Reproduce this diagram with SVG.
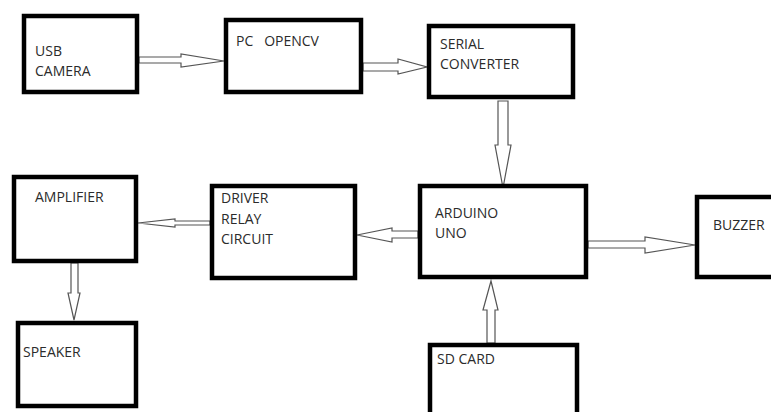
<svg xmlns="http://www.w3.org/2000/svg" width="771" height="412" viewBox="0 0 771 412">
<style>
.box{fill:#fff;stroke:#000;stroke-width:4.5}
.lbl{font-family:"Open Sans","Liberation Sans",sans-serif;font-size:14px;fill:#2b2b2b}
.arr{fill:#fff;stroke:#555;stroke-width:1.2;stroke-linejoin:miter}
</style>
<rect width="771" height="412" fill="#fff"/>
<g id="connectors">
<polygon class="arr" points="139,57 181,57 181,54 224,61 181,67 181,63 139,63"/>
<polygon class="arr" points="363,63 398,63 398,59 427,67 398,74 398,71 363,71"/>
<polygon class="arr" points="498,101 508,101 508,145 511,145 503,188 495,145 498,145"/>
<polygon class="arr" points="487,343 487,310 483,310 491,281 498,310 495,310 495,343"/>
<polygon class="arr" points="588,241 645,241 645,237 695,245 645,253 645,248 588,248"/>
<polygon class="arr" points="418,231 392,231 392,228 357,235 392,242 392,238 418,238"/>
<polygon class="arr" points="210,221 175,221 175,219 138,223 175,227 175,225 210,225"/>
<polygon class="arr" points="71,263 71,293 68,293 74,320 80,293 78,293 78,263"/>
</g>
<g id="usb-camera">
<rect class="box" x="24" y="16" width="113" height="76"/>
<text class="lbl" x="35" y="56">USB</text>
<text class="lbl" x="35" y="76">CAMERA</text>
</g>
<g id="pc-opencv">
<rect class="box" x="226" y="20" width="135" height="72"/>
<text class="lbl" x="236" y="46" xml:space="preserve">PC   OPENCV</text>
</g>
<g id="serial-converter">
<rect class="box" x="429" y="26" width="144" height="71"/>
<text class="lbl" x="440" y="49">SERIAL</text>
<text class="lbl" x="440" y="69">CONVERTER</text>
</g>
<g id="arduino-uno">
<rect class="box" x="420" y="186" width="166" height="91"/>
<text class="lbl" x="435" y="218">ARDUINO</text>
<text class="lbl" x="435" y="238">UNO</text>
</g>
<g id="buzzer">
<rect class="box" x="697" y="197" width="90" height="80"/>
<text class="lbl" x="713" y="230">BUZZER</text>
</g>
<g id="sd-card">
<rect class="box" x="430" y="345" width="147" height="80"/>
<text class="lbl" x="437" y="364">SD CARD</text>
</g>
<g id="driver-relay-circuit">
<rect class="box" x="212" y="186" width="143" height="92"/>
<text class="lbl" x="221" y="203">DRIVER</text>
<text class="lbl" x="221" y="224">RELAY</text>
<text class="lbl" x="221" y="244">CIRCUIT</text>
</g>
<g id="amplifier">
<rect class="box" x="14" y="177" width="122" height="84"/>
<text class="lbl" x="35" y="202">AMPLIFIER</text>
</g>
<g id="speaker">
<rect class="box" x="18" y="323" width="118" height="83"/>
<text class="lbl" x="23" y="357">SPEAKER</text>
</g>
</svg>
